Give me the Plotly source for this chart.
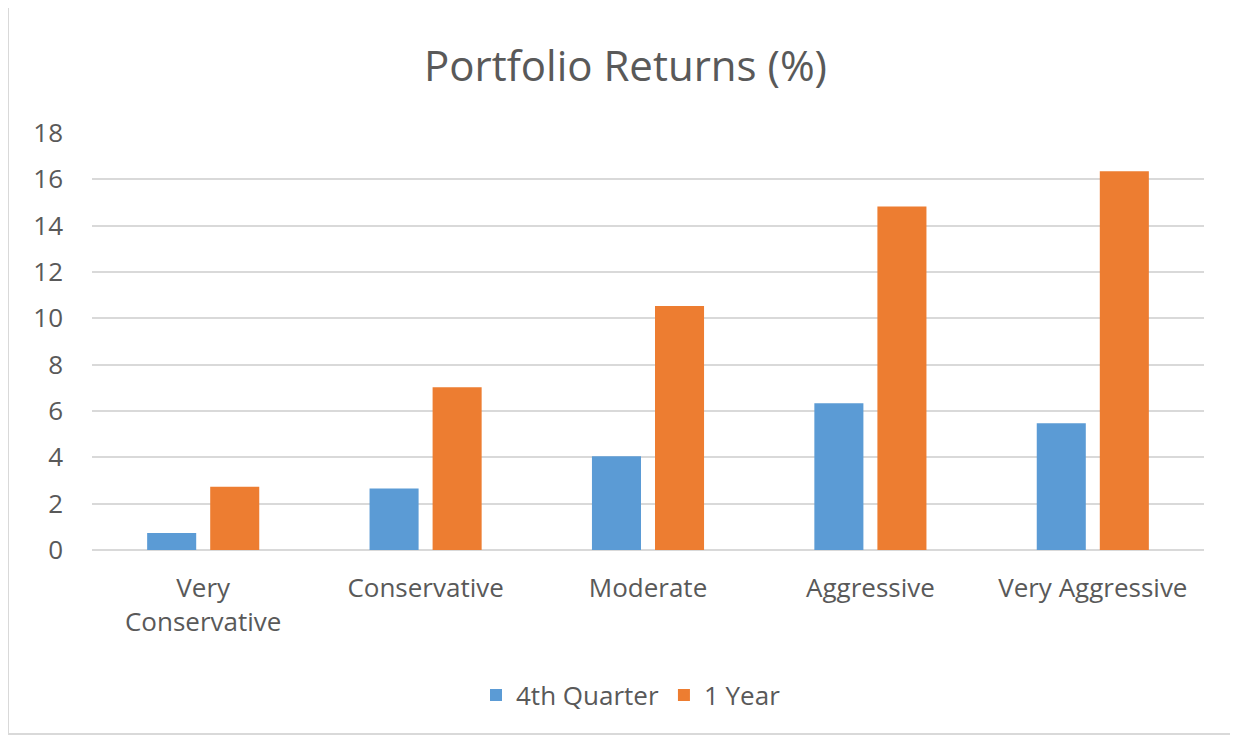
import plotly.graph_objects as go

categories = ["Very<br>Conservative", "Conservative", "Moderate", "Aggressive", "Very Aggressive"]
q4_values = [0.73, 2.65, 4.05, 6.33, 5.47]
year_values = [2.73, 7.03, 10.53, 14.83, 16.35]
y_ticks = [0, 2, 4, 6, 8, 10, 12, 14, 16, 18]

BLUE = "#5B9BD5"
ORANGE = "#ED7D31"
TEXT = "#595959"
GRID = "#D9D9D9"
FONT = "Open Sans"

fig = go.Figure()
fig.add_trace(go.Bar(name="4th Quarter", x=categories, y=q4_values, marker_color=BLUE,
                     marker_line_width=0))
fig.add_trace(go.Bar(name="1 Year", x=categories, y=year_values, marker_color=ORANGE,
                     marker_line_width=0))

# page body has an 8px margin, so figure coordinates are reference - 8
OFF = 8
L, R, T, B = 92 - OFF, 1204 - OFF, 133 - OFF, 550 - OFF
W, H = 1238 - OFF, 740 - OFF
pw, ph = R - L, B - T

fig.update_layout(
    width=W, height=H,
    margin=dict(l=L, r=W - R, t=T, b=H - B, pad=0),
    paper_bgcolor="white", plot_bgcolor="white",
    barmode="group", bargap=0.433, bargroupgap=0.222,
    font=dict(family=FONT, color=TEXT, size=26),
    title=dict(text="Portfolio Returns (%)", x=(625.5 - OFF) / W, xanchor="center",
               y=1 - (66 - OFF) / H, yanchor="middle",
               font=dict(family=FONT, size=42, color=TEXT)),
    showlegend=True,
    legend=dict(orientation="h", x=(631 - OFF) / W, xanchor="center", xref="container",
                y=1 - (695 - OFF) / H, yanchor="middle", yref="container",
                font=dict(family=FONT, size=26, color=TEXT),
                itemwidth=30, tracegroupgap=0, traceorder="normal"),
    xaxis=dict(showgrid=False, showline=False, zeroline=False, ticks="",
               tickfont=dict(family=FONT, size=26, color=TEXT),
               ticklabelstandoff=20, fixedrange=True),
    yaxis=dict(range=[0, 18], tickvals=y_ticks, showgrid=True, gridcolor=GRID,
               gridwidth=2, zeroline=True, zerolinecolor=GRID, zerolinewidth=2,
               showline=False, ticks="",
               tickfont=dict(family=FONT, size=26, color=TEXT),
               ticklabelstandoff=28, fixedrange=True),
    shapes=[dict(type="rect", xref="paper", yref="paper",
                 x0=(8 - OFF - L) / pw, x1=(1232 - OFF - L) / pw,
                 y0=(B - (734 - OFF)) / ph, y1=(B - (6 - OFF)) / ph,
                 line=dict(color=GRID, width=2), fillcolor="rgba(0,0,0,0)",
                 layer="below")],
)

fig.write_html("out.html")
